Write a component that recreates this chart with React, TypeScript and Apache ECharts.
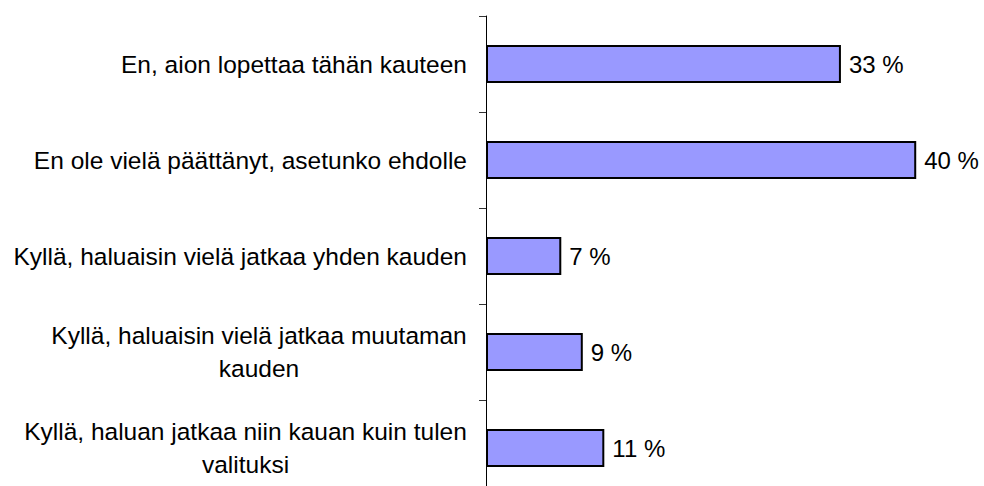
import React, { useEffect, useRef } from "react";
import * as echarts from "echarts";

const categories: string[] = [
  "En, aion lopettaa tähän kauteen",
  "En ole vielä päättänyt, asetunko ehdolle",
  "Kyllä, haluaisin vielä jatkaa yhden kauden",
  "Kyllä, haluaisin vielä jatkaa muutaman\nkauden",
  "Kyllä, haluan jatkaa niin kauan kuin tulen\nvalituksi",
];
const values: number[] = [33, 40, 7, 9, 11];

const FONT_FAMILY = '"Liberation Sans", Arial, Helvetica, sans-serif';
const FONT_SIZE = 24.5;

function measure(text: string): number {
  const c = document.createElement("canvas");
  const ctx = c.getContext("2d");
  if (!ctx) return text.length * 12;
  ctx.font = `${FONT_SIZE}px ${FONT_FAMILY}`;
  return ctx.measureText(text).width;
}

export default function App() {
  const ref = useRef<HTMLDivElement>(null);
  useEffect(() => {
    if (!ref.current) return;
    const chart = echarts.init(ref.current, undefined, { renderer: "svg" });

    const rich: Record<string, any> = {};
    categories.forEach((c, i) => {
      if (c.includes("\n")) {
        const lines = c.split("\n");
        const w = Math.ceil(Math.max(...lines.map(measure)));
        rich["r" + i] = {
          width: w,
          align: "center",
          fontSize: FONT_SIZE,
          fontFamily: FONT_FAMILY,
          color: "#000",
          lineHeight: 33,
        };
      }
    });

    chart.setOption({
      animation: false,
      grid: { left: 486, top: 16, width: 484, height: 480, containLabel: false },
      xAxis: {
        type: "value",
        min: 0,
        max: 45,
        show: false,
        splitLine: { show: false },
      },
      yAxis: {
        type: "category",
        inverse: true,
        data: categories,
        axisLine: { show: true, lineStyle: { color: "#000", width: 1 } },
        axisTick: { show: true, length: 7, lineStyle: { color: "#333" } },
        axisLabel: {
          margin: 19,
          color: "#000",
          fontSize: FONT_SIZE,
          fontFamily: FONT_FAMILY,
          lineHeight: 33,
          rich,
          formatter: (val: string) => {
            const i = categories.indexOf(val);
            if (val.includes("\n")) {
              return val
                .split("\n")
                .map((l) => `{r${i}|${l}}`)
                .join("\n");
            }
            return val;
          },
        },
      },
      series: [
        {
          type: "bar",
          data: values,
          barWidth: 38,
          itemStyle: { color: "#9999FF", borderColor: "#000", borderWidth: 2 },
          label: {
            show: true,
            position: "right",
            distance: 8,
            color: "#000",
            fontSize: 24,
            fontFamily: FONT_FAMILY,
            formatter: (p: any) => `${p.value} %`,
          },
        },
      ],
    });
    return () => chart.dispose();
  }, []);
  return (
    <div
      style={{
        position: "absolute",
        left: 0,
        top: 0,
        width: 984,
        height: 486,
        overflow: "hidden",
        background: "#fff",
      }}
    >
      <div ref={ref} style={{ width: 984, height: 500 }} />
    </div>
  );
}
